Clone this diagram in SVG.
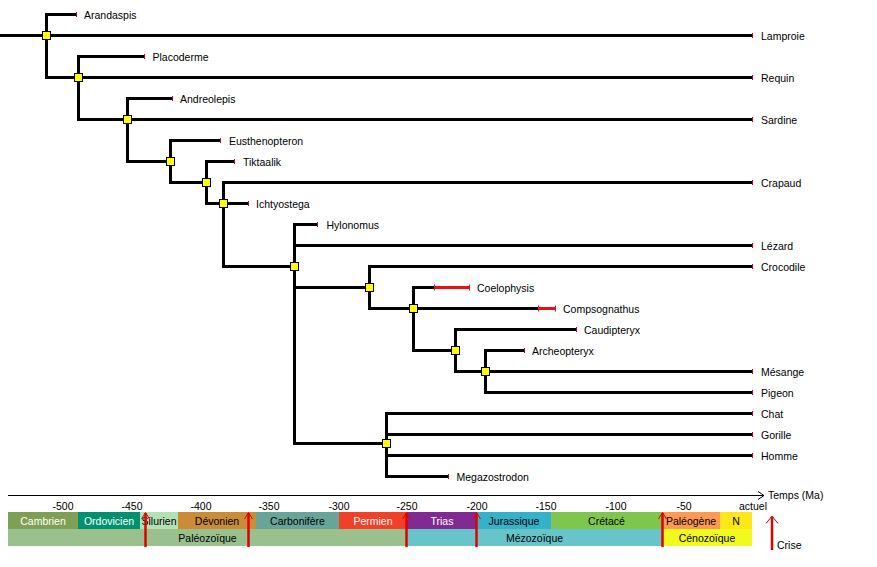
<svg xmlns="http://www.w3.org/2000/svg" width="877" height="567" viewBox="0 0 877 567">
<style>
text{font-family:"Liberation Sans",Arial,sans-serif;font-size:10.5px;fill:#000}
.c path{fill:none;stroke:#000;stroke-width:3;stroke-linejoin:miter}
.tip{stroke:#c00028;stroke-width:1}
.rng{stroke:#e81010;stroke-width:3}
.cap{stroke:#e81010;stroke-width:1}
.nd{fill:#ffff00;stroke:#000;stroke-width:1}
.w{fill:#fff}
.m{text-anchor:middle}
.cr{stroke:#e00000;stroke-width:2.5}
.ch{fill:none;stroke:#e00000;stroke-width:1}
</style>
<rect width="877" height="567" fill="#fff"/>
<g id="connectors" class="c">
<path d="M0 35.5H753"/>
<path d="M46.5 35.5V14.5H77"/>
<path d="M46.5 35.5V77.5H78.5"/>
<path d="M78.5 77.5V56.5H145"/>
<path d="M78.5 77.5H753"/>
<path d="M78.5 77.5V119.5H127.5"/>
<path d="M127.5 119.5V98.5H173"/>
<path d="M127.5 119.5H753"/>
<path d="M127.5 119.5V161.5H170.5"/>
<path d="M170.5 161.5V140.5H221"/>
<path d="M170.5 161.5V182.5H206.5"/>
<path d="M206.5 182.5V161.5H235"/>
<path d="M206.5 182.5V203.5H223.5"/>
<path d="M223.5 203.5V182.5H753"/>
<path d="M223.5 203.5H249"/>
<path d="M223.5 203.5V266.5H294.5"/>
<path d="M294.5 266.5V224.5H318"/>
<path d="M294.5 245.5H753"/>
<path d="M294.5 266.5V287.5H369.5"/>
<path d="M294.5 266.5V443.5H386.5"/>
<path d="M369.5 287.5V266.5H753"/>
<path d="M369.5 287.5V308.5H413.5"/>
<path d="M413.5 308.5V287.5H434"/>
<path d="M413.5 308.5H538"/>
<path d="M413.5 308.5V350.5H455.5"/>
<path d="M455.5 350.5V329.5H577"/>
<path d="M455.5 350.5V371.5H485.5"/>
<path d="M485.5 371.5V350.5H525"/>
<path d="M485.5 371.5H753"/>
<path d="M485.5 371.5V392.5H753"/>
<path d="M386.5 443.5V413.5H753"/>
<path d="M386.5 443.5V434.5H753"/>
<path d="M386.5 443.5V455.5H753"/>
<path d="M386.5 443.5V476.5H449"/>
</g>
<g id="n1"><rect class="nd" x="42.5" y="31.5" width="8" height="8"/></g>
<g id="n2"><rect class="nd" x="74.5" y="73.5" width="8" height="8"/></g>
<g id="n3"><rect class="nd" x="123.5" y="115.5" width="8" height="8"/></g>
<g id="n4"><rect class="nd" x="166.5" y="157.5" width="8" height="8"/></g>
<g id="n5"><rect class="nd" x="202.5" y="178.5" width="8" height="8"/></g>
<g id="n6"><rect class="nd" x="219.5" y="199.5" width="8" height="8"/></g>
<g id="n7"><rect class="nd" x="290.5" y="262.5" width="8" height="8"/></g>
<g id="n8"><rect class="nd" x="365.5" y="283.5" width="8" height="8"/></g>
<g id="n9"><rect class="nd" x="409.5" y="304.5" width="8" height="8"/></g>
<g id="n10"><rect class="nd" x="451.5" y="346.5" width="8" height="8"/></g>
<g id="n11"><rect class="nd" x="481.5" y="367.5" width="8" height="8"/></g>
<g id="n12"><rect class="nd" x="382.5" y="439.5" width="8" height="8"/></g>
<g id="arandaspis"><line class="tip" x1="76.5" y1="12" x2="76.5" y2="17"/><text x="84" y="18.5">Arandaspis</text></g>
<g id="lamproie"><line class="tip" x1="752.5" y1="33" x2="752.5" y2="38"/><text x="761" y="39.5">Lamproie</text></g>
<g id="placoderme"><line class="tip" x1="144.5" y1="54" x2="144.5" y2="59"/><text x="152.5" y="60.5">Placoderme</text></g>
<g id="requin"><line class="tip" x1="752.5" y1="75" x2="752.5" y2="80"/><text x="761" y="81.5">Requin</text></g>
<g id="andreolepis"><line class="tip" x1="172.5" y1="96" x2="172.5" y2="101"/><text x="180" y="102.5">Andreolepis</text></g>
<g id="sardine"><line class="tip" x1="752.5" y1="117" x2="752.5" y2="122"/><text x="761" y="123.5">Sardine</text></g>
<g id="eusthenopteron"><line class="tip" x1="220.5" y1="138" x2="220.5" y2="143"/><text x="229" y="144.5">Eusthenopteron</text></g>
<g id="tiktaalik"><line class="tip" x1="234.5" y1="159" x2="234.5" y2="164"/><text x="243" y="165.5">Tiktaalik</text></g>
<g id="crapaud"><line class="tip" x1="752.5" y1="180" x2="752.5" y2="185"/><text x="761" y="186.5">Crapaud</text></g>
<g id="ichtyostega"><line class="tip" x1="248.5" y1="201" x2="248.5" y2="206"/><text x="256" y="207.5">Ichtyostega</text></g>
<g id="hylonomus"><line class="tip" x1="317.5" y1="222" x2="317.5" y2="227"/><text x="326.5" y="228.5">Hylonomus</text></g>
<g id="lezard"><line class="tip" x1="752.5" y1="243" x2="752.5" y2="248"/><text x="761" y="249.5">Lézard</text></g>
<g id="crocodile"><line class="tip" x1="752.5" y1="264" x2="752.5" y2="269"/><text x="761" y="270.5">Crocodile</text></g>
<g id="coelophysis"><line class="rng" x1="434" y1="287.5" x2="470" y2="287.5"/><line class="cap" x1="434.5" y1="284.5" x2="434.5" y2="290.5"/><line class="cap" x1="469.5" y1="284.5" x2="469.5" y2="290.5"/><text x="477" y="291.5">Coelophysis</text></g>
<g id="compsognathus"><line class="rng" x1="538" y1="308.5" x2="556" y2="308.5"/><line class="cap" x1="538.5" y1="305.5" x2="538.5" y2="311.5"/><line class="cap" x1="555.5" y1="305.5" x2="555.5" y2="311.5"/><text x="563" y="312.5">Compsognathus</text></g>
<g id="caudipteryx"><line class="tip" x1="576.5" y1="327" x2="576.5" y2="332"/><text x="584" y="333.5">Caudipteryx</text></g>
<g id="archeopteryx"><line class="tip" x1="524.5" y1="348" x2="524.5" y2="353"/><text x="532" y="354.5">Archeopteryx</text></g>
<g id="mesange"><line class="tip" x1="752.5" y1="369" x2="752.5" y2="374"/><text x="761" y="375.5">Mésange</text></g>
<g id="pigeon"><line class="tip" x1="752.5" y1="390" x2="752.5" y2="395"/><text x="761" y="396.5">Pigeon</text></g>
<g id="chat"><line class="tip" x1="752.5" y1="411" x2="752.5" y2="416"/><text x="761" y="417.5">Chat</text></g>
<g id="gorille"><line class="tip" x1="752.5" y1="432" x2="752.5" y2="437"/><text x="761" y="438.5">Gorille</text></g>
<g id="homme"><line class="tip" x1="752.5" y1="453" x2="752.5" y2="458"/><text x="761" y="459.5">Homme</text></g>
<g id="megazostrodon"><line class="tip" x1="448.5" y1="474" x2="448.5" y2="479"/><text x="456.5" y="480.5">Megazostrodon</text></g>
<g id="axis">
<line x1="8" y1="495.5" x2="764" y2="495.5" stroke="#000" stroke-width="1"/>
<polyline points="758,491.5 764,495.5 758,499.5" fill="none" stroke="#000" stroke-width="1"/>
<text x="768" y="499">Temps (Ma)</text>
<text class="m" x="63" y="509.5">-500</text>
<text class="m" x="132" y="509.5">-450</text>
<text class="m" x="201" y="509.5">-400</text>
<text class="m" x="269" y="509.5">-350</text>
<text class="m" x="339" y="509.5">-300</text>
<text class="m" x="407" y="509.5">-250</text>
<text class="m" x="477" y="509.5">-200</text>
<text class="m" x="546" y="509.5">-150</text>
<text class="m" x="616" y="509.5">-100</text>
<text class="m" x="684" y="509.5">-50</text>
<text class="m" x="753" y="509.5">actuel</text>
</g>
<g id="periods">
<rect x="8" y="512" width="70" height="17" fill="#7f9f55"/><text class="m w" x="43" y="525">Cambrien</text>
<rect x="78" y="512" width="62" height="17" fill="#009270"/><text class="m w" x="109" y="525">Ordovicien</text>
<rect x="140" y="512" width="38" height="17" fill="#b3e1b6"/><text class="m" x="159" y="525">Silurien</text>
<rect x="178" y="512" width="78" height="17" fill="#cb8c37"/><text class="m" x="217" y="525">Dévonien</text>
<rect x="256" y="512" width="83" height="17" fill="#67a599"/><text class="m" x="297.5" y="525">Carbonifère</text>
<rect x="339" y="512" width="68" height="17" fill="#f04028"/><text class="m w" x="373" y="525">Permien</text>
<rect x="407" y="512" width="70" height="17" fill="#812b92"/><text class="m w" x="442" y="525">Trias</text>
<rect x="477" y="512" width="74" height="17" fill="#34b2c9"/><text class="m" x="514" y="525">Jurassique</text>
<rect x="551" y="512" width="111" height="17" fill="#7fc64e"/><text class="m" x="606.5" y="525">Crétacé</text>
<rect x="662" y="512" width="58" height="17" fill="#fd9a52"/><text class="m" x="691" y="525">Paléogène</text>
<rect x="720" y="512" width="32" height="17" fill="#ffe619"/><text class="m" x="736" y="525">N</text>
</g>
<g id="eras">
<rect x="8" y="529" width="399" height="17" fill="#99c08d"/><text class="m" x="207.5" y="541.5">Paléozoïque</text>
<rect x="407" y="529" width="255" height="17" fill="#67c5ca"/><text class="m" x="534.5" y="541.5">Mézozoïque</text>
<rect x="662" y="529" width="90" height="17" fill="#f2f91d"/><text class="m" x="707" y="541.5">Cénozoïque</text>
</g>
<g id="crises">
<line class="cr" x1="145.5" y1="513" x2="145.5" y2="547"/><polyline class="ch" points="141.5,519 145.5,512.5 149.5,519"/>
<line class="cr" x1="248.5" y1="513" x2="248.5" y2="547"/><polyline class="ch" points="244.5,519 248.5,512.5 252.5,519"/>
<line class="cr" x1="406.5" y1="513" x2="406.5" y2="547"/><polyline class="ch" points="402.5,519 406.5,512.5 410.5,519"/>
<line class="cr" x1="476.5" y1="513" x2="476.5" y2="547"/><polyline class="ch" points="472.5,519 476.5,512.5 480.5,519"/>
<line class="cr" x1="662.5" y1="513" x2="662.5" y2="547"/><polyline class="ch" points="658.5,519 662.5,512.5 666.5,519"/>
</g>
<g id="legend">
<line class="cr" x1="772" y1="517" x2="772" y2="550"/><polyline class="ch" points="766,523.5 772,516 778,523.5"/>
<text x="777" y="549">Crise</text>
</g>
</svg>
